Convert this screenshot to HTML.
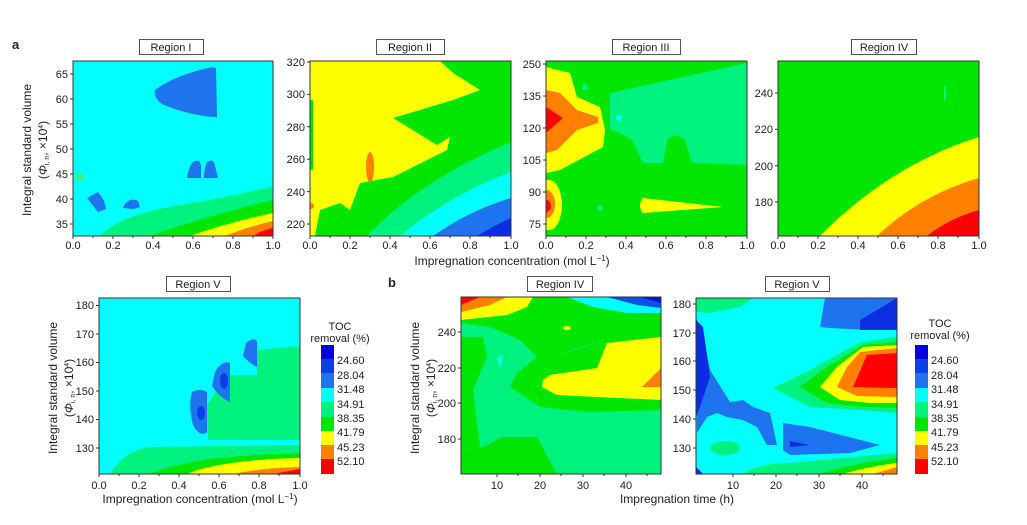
<!DOCTYPE html>
<html><head><meta charset="utf-8"><style>
body{margin:0;background:#fff}
svg{display:block}
text{font-family:"Liberation Sans",sans-serif;fill:#222}
.t{font-size:11px}
.ax{stroke:#333;stroke-width:1;fill:none}
</style></head><body>
<svg width="1027" height="525" viewBox="0 0 1027 525" xmlns="http://www.w3.org/2000/svg">
<defs>
<clipPath id="c1"><rect x="73" y="61" width="200" height="175"/></clipPath>
<clipPath id="c2"><rect x="310" y="61" width="201" height="175"/></clipPath>
<clipPath id="c3"><rect x="546" y="61" width="201" height="175"/></clipPath>
<clipPath id="c4"><rect x="778" y="61" width="201" height="175"/></clipPath>
<clipPath id="c5"><rect x="99" y="298" width="201" height="176"/></clipPath>
<clipPath id="c6"><rect x="461" y="297" width="200" height="177"/></clipPath>
<clipPath id="c7"><rect x="696" y="298" width="201" height="176"/></clipPath>
</defs>

<!-- Region I -->
<g clip-path="url(#c1)">
<rect x="73" y="61" width="200" height="175" fill="#00ffff"/>
<path d="M100,236 Q120,215 180,205 Q240,195 273,186 L273,236Z" fill="#00f27e"/>
<path d="M150,236 Q200,218 273,200 L273,236Z" fill="#00e600"/>
<path d="M190,236 Q230,222 273,213 L273,236Z" fill="#ffff00"/>
<path d="M225,236 Q250,226 273,221 L273,236Z" fill="#ff8000"/>
<path d="M253,236 Q262,230 273,228 L273,236Z" fill="#ff0000"/>
<path d="M155,90 Q175,75 212,67 L216,68 L217,117 Q190,116 162,104 Q153,97 155,90Z" fill="#1e74ee"/>
<path d="M193,162 Q200,158 201,166 L201,178 L187,178 Q188,168 193,162Z" fill="#1e74ee"/>
<path d="M207,162 Q214,158 215,166 L218,178 L204,178 Q204,168 207,162Z" fill="#1e74ee"/>
<path d="M87,198 L98,192 Q105,200 106,209 L98,212 Z" fill="#1e74ee"/>
<path d="M123,207 Q130,196 138,201 L140,207 L134,209 L123,208Z" fill="#1e74ee"/>
<circle cx="80" cy="177" r="4" fill="#3df07a"/>
</g>

<!-- Region II -->
<g clip-path="url(#c2)">
<rect x="310" y="61" width="201" height="175" fill="#00e600"/>
<path d="M367,236 Q420,180 511,142 L511,236Z" fill="#00f27e"/>
<path d="M400,236 Q450,195 511,172 L511,236Z" fill="#00ffff"/>
<path d="M433,236 Q470,210 511,198 L511,236Z" fill="#1e74ee"/>
<path d="M477,236 Q495,225 511,218 L511,236Z" fill="#0a2ee0"/>
<path d="M310,61 L440,61 L453,73 L480,90 L453,100 L393,118 L437,145 L450,137 L447,150 L433,157 L393,177 L360,183 L350,210 L340,203 L320,210 L315,236 L310,236Z" fill="#ffff00"/>
<rect x="310" y="100" width="3" height="70" fill="#00e600"/>
<ellipse cx="370" cy="167" rx="4" ry="15" fill="#ff8000"/>
<circle cx="311" cy="206" r="3" fill="#ff8000"/>
</g>

<!-- Region III -->
<g clip-path="url(#c3)">
<rect x="546" y="61" width="201" height="175" fill="#00e600"/>
<path d="M610,93 L747,63 L747,165 L692,163 L685,140 L677,135 L668,138 L663,163 L643,163 L632,140 L620,133 L610,130Z" fill="#00f27e"/>
<path d="M546,67 L570,73 L577,97 L600,107 L605,130 L603,147 L560,170 L546,173Z" fill="#ffff00"/>
<path d="M546,90 L560,93 L577,110 L598,117 L598,123 L577,130 L557,150 L546,153Z" fill="#ff8000"/>
<path d="M546,107 L563,118 L546,133Z" fill="#ff0000"/>
<ellipse cx="549" cy="205" rx="13" ry="25" fill="#ffff00"/>
<ellipse cx="547" cy="204" rx="8" ry="14" fill="#ff8000"/>
<ellipse cx="546" cy="206" rx="5" ry="6" fill="#ff0000"/>
<path d="M643,198 L723,207 L643,213 Q637,206 643,198Z" fill="#ffff00"/>
<circle cx="619" cy="118" r="3" fill="#00ffff"/>
<circle cx="600" cy="208" r="3" fill="#00f27e"/>
<circle cx="585" cy="87" r="3" fill="#00f27e"/>
</g>

<!-- Region IV -->
<g clip-path="url(#c4)">
<rect x="778" y="61" width="201" height="175" fill="#00e600"/>
<path d="M820,236 Q890,165 979,137 L979,236Z" fill="#ffff00"/>
<path d="M877,236 Q920,195 979,178 L979,236Z" fill="#ff8000"/>
<path d="M927,236 Q950,218 979,210 L979,236Z" fill="#ff0000"/>
<rect x="944" y="86" width="2" height="14" fill="#00f27e"/>
</g>

<!-- Region V a -->
<g clip-path="url(#c5)">
<rect x="99" y="298" width="201" height="176" fill="#00ffff"/>
<path d="M207,405 L227,375 L257,375 L257,350 L300,346 L300,440 L208,440Z" fill="#00f27e"/>
<path d="M110,474 Q125,450 150,447 L300,445 L300,474Z" fill="#00f27e"/>
<path d="M150,474 Q190,456 300,453 L300,474Z" fill="#00e600"/>
<path d="M187,474 Q220,460 300,458 L300,474Z" fill="#ffff00"/>
<path d="M233,474 Q260,468 300,467 L300,474Z" fill="#ff8000"/>
<path d="M273,474 L300,469 L300,474Z" fill="#ff0000"/>
<path d="M192,392 Q200,388 207,392 L207,432 Q200,438 193,425 Q188,405 192,392Z" fill="#1e74ee"/>
<ellipse cx="201" cy="413" rx="4" ry="7" fill="#0a3ee6"/>
<path d="M215,372 Q222,360 230,363 L230,402 Q220,398 212,386Z" fill="#1e74ee"/>
<ellipse cx="224" cy="381" rx="4" ry="8" fill="#0a3ee6"/>
<path d="M246,343 Q255,336 257,342 L257,367 Q248,362 243,356Z" fill="#1e74ee"/>
</g>

<!-- b Region IV -->
<g clip-path="url(#c6)">
<rect x="461" y="297" width="200" height="177" fill="#00f27e"/>
<path d="M461,297 L661,297 L661,337 L607,340 L580,347 L550,357 L537,357 L520,340 L490,327 L461,323Z" fill="#00e600"/>
<path d="M537,357 L550,357 L607,340 L661,337 L661,410 L590,412 L540,407 L510,387 L517,373Z" fill="#00e600"/>
<path d="M461,337 L483,337 L487,357 L473,390 L480,447 L461,450Z" fill="#00e600"/>
<path d="M461,450 L483,447 L503,437 L537,437 L557,474 L461,474Z" fill="#00e600"/>
<path d="M543,380 L550,375 L597,368 L607,343 L661,337 L661,400 L597,397 L557,395 L542,387Z" fill="#ffff00"/>
<path d="M642,387 L661,368 L661,387Z" fill="#ff8000"/>
<path d="M461,297 L533,297 L527,307 L507,315 L461,320Z" fill="#ffff00"/>
<path d="M461,297 L507,297 L490,305 L461,312Z" fill="#ff8000"/>
<path d="M461,297 L480,297 L461,305Z" fill="#ff0000"/>
<path d="M567,297 L661,297 L661,313 L627,313 L593,307Z" fill="#00ffff"/>
<path d="M607,297 L661,297 L661,308 L637,305Z" fill="#0a50ea"/>
<path d="M640,297 L661,297 L661,303Z" fill="#0010e0"/>
<path d="M497,358 L503,356 L500,368Z" fill="#00ffff"/>
<ellipse cx="567" cy="328" rx="4" ry="2" fill="#ffff00"/>
</g>

<!-- b Region V -->
<g clip-path="url(#c7)">
<rect x="696" y="298" width="201" height="176" fill="#00ffff"/>
<path d="M825,298 L897,298 L897,330 L870,330 L830,328 L820,327Z" fill="#1e74ee"/>
<path d="M877,310 L897,298 L897,330 L860,330 L860,320Z" fill="#0a2ee0"/>
<path d="M696,298 L753,298 L740,307 L710,313 L696,312Z" fill="#00f27e"/>
<path d="M897,337 L860,342 L810,370 L773,388 L810,407 L860,410 L897,413Z" fill="#00f27e"/>
<path d="M897,342 L863,345 L827,367 L800,387 L827,403 L863,407 L897,408Z" fill="#00e600"/>
<path d="M897,345 L863,347 L837,367 L820,387 L840,400 L870,403 L897,403Z" fill="#ffff00"/>
<path d="M897,348 L860,352 L847,367 L837,387 L857,396 L897,397Z" fill="#ff8000"/>
<path d="M897,353 L867,355 L853,387 L897,388Z" fill="#ff0000"/>
<path d="M696,317 L705,345 L710,370 L730,402 L743,400 L753,407 L770,413 L777,445 L767,445 L757,427 L743,420 L727,417 L717,413 L707,417 L697,433Z" fill="#1e74ee"/>
<path d="M696,320 L703,327 L710,377 L700,407 L696,417Z" fill="#0a2ee0"/>
<path d="M783,423 L810,427 L880,445 L850,453 L790,455 L783,450Z" fill="#1e74ee"/>
<path d="M790,441 L810,445 L790,447Z" fill="#0a2ee0"/>
<ellipse cx="725" cy="448" rx="15" ry="7" fill="#00f27e"/>
<path d="M743,474 Q760,463 790,463 L897,453 L897,474Z" fill="#00f27e"/>
<path d="M820,474 Q850,464 897,458 L897,474Z" fill="#00e600"/>
<path d="M843,474 Q870,466 897,463 L897,474Z" fill="#ffff00"/>
<path d="M873,474 L897,467 L897,474Z" fill="#ff8000"/>
<path d="M696,467 L703,474 L696,474Z" fill="#0a2ee0"/>
</g>

<!-- frames -->
<g class="ax">
<rect x="73" y="61" width="200" height="175"/>
<rect x="310" y="61" width="201" height="175"/>
<rect x="546" y="61" width="201" height="175"/>
<rect x="778" y="61" width="201" height="175"/>
<rect x="99" y="298" width="201" height="176"/>
<rect x="461" y="297" width="200" height="177"/>
<rect x="696" y="298" width="201" height="176"/>
</g>

<!-- ticks -->
<g stroke="#333" stroke-width="1">
<path d="M70,224h3M70,199h3M70,174h3M70,149h3M70,124h3M70,99h3M70,74h3"/>
<path d="M307,224h3M307,191.6h3M307,159.2h3M307,126.8h3M307,94.4h3M307,62h3"/>
<path d="M543,224h3M543,192h3M543,160h3M543,128h3M543,96h3M543,64h3"/>
<path d="M775,202h3M775,165.7h3M775,129.3h3M775,93h3"/>
<path d="M96,448h3M96,419.5h3M96,391h3M96,362.5h3M96,334h3M96,305.5h3"/>
<path d="M458,439h3M458,403h3M458,368h3M458,332h3"/>
<path d="M693,448h3M693,419h3M693,390h3M693,361h3M693,333h3M693,304h3"/>
<path d="M73,236v3M113,236v3M153,236v3M193,236v3M233,236v3M273,236v3"/>
<path d="M310,236v3M350,236v3M390,236v3M430,236v3M470,236v3M511,236v3"/>
<path d="M546,236v3M586,236v3M626,236v3M666,236v3M706,236v3M747,236v3"/>
<path d="M778,236v3M818,236v3M858,236v3M898,236v3M938,236v3M979,236v3"/>
<path d="M99,474v3M139,474v3M179,474v3M219,474v3M259,474v3M300,474v3"/>
<path d="M497,474v3M540,474v3M583,474v3M626,474v3"/>
<path d="M733,474v3M776,474v3M819,474v3M862,474v3"/>
<path d="M93,236v2M133,236v2M173,236v2M213,236v2M253,236v2M330,236v2M370,236v2M410,236v2M450,236v2M490,236v2M566,236v2M606,236v2M646,236v2M686,236v2M726,236v2M798,236v2M838,236v2M878,236v2M918,236v2M958,236v2M119,474v2M159,474v2M199,474v2M239,474v2M279,474v2M518,474v2M561,474v2M604,474v2M647,474v2M754,474v2M797,474v2M840,474v2M883,474v2"/>
</g>

<!-- tick labels -->
<g class="t" text-anchor="end">
<text x="68" y="228">35</text><text x="68" y="203">40</text><text x="68" y="178">45</text><text x="68" y="153">50</text><text x="68" y="128">55</text><text x="68" y="103">60</text><text x="68" y="78">65</text>
<text x="305" y="228">220</text><text x="305" y="196">240</text><text x="305" y="163">260</text><text x="305" y="131">280</text><text x="305" y="98">300</text><text x="305" y="66">320</text>
<text x="541" y="228">75</text><text x="541" y="196">90</text><text x="541" y="164">105</text><text x="541" y="132">120</text><text x="541" y="100">135</text><text x="541" y="68">250</text>
<text x="773" y="206">180</text><text x="773" y="170">200</text><text x="773" y="133">220</text><text x="773" y="97">240</text>
<text x="94" y="452">130</text><text x="94" y="423">140</text><text x="94" y="395">150</text><text x="94" y="366">160</text><text x="94" y="338">170</text><text x="94" y="309">180</text>
<text x="456" y="443">180</text><text x="456" y="407">200</text><text x="456" y="372">220</text><text x="456" y="336">240</text>
<text x="691" y="452">130</text><text x="691" y="423">140</text><text x="691" y="394">150</text><text x="691" y="365">160</text><text x="691" y="337">170</text><text x="691" y="308">180</text>
</g>
<g class="t" text-anchor="middle">
<text x="73" y="249">0.0</text><text x="113" y="249">0.2</text><text x="153" y="249">0.4</text><text x="193" y="249">0.6</text><text x="233" y="249">0.8</text><text x="273" y="249">1.0</text>
<text x="310" y="249">0.0</text><text x="350" y="249">0.2</text><text x="390" y="249">0.4</text><text x="430" y="249">0.6</text><text x="470" y="249">0.8</text><text x="511" y="249">1.0</text>
<text x="546" y="249">0.0</text><text x="586" y="249">0.2</text><text x="626" y="249">0.4</text><text x="666" y="249">0.6</text><text x="706" y="249">0.8</text><text x="747" y="249">1.0</text>
<text x="778" y="249">0.0</text><text x="818" y="249">0.2</text><text x="858" y="249">0.4</text><text x="898" y="249">0.6</text><text x="938" y="249">0.8</text><text x="979" y="249">1.0</text>
<text x="99" y="489">0.0</text><text x="139" y="489">0.2</text><text x="179" y="489">0.4</text><text x="219" y="489">0.6</text><text x="259" y="489">0.8</text><text x="300" y="489">1.0</text>
<text x="497" y="489">10</text><text x="540" y="489">20</text><text x="583" y="489">30</text><text x="626" y="489">40</text>
<text x="733" y="489">10</text><text x="776" y="489">20</text><text x="819" y="489">30</text><text x="862" y="489">40</text>
</g>

<!-- axis labels -->
<g style="font-size:12px" text-anchor="middle">
<text x="512" y="265">Impregnation concentration (mol L<tspan dy="-4" font-size="8">−1</tspan><tspan dy="4">)</tspan></text>
<text x="200" y="503">Impregnation concentration (mol L<tspan dy="-4" font-size="8">−1</tspan><tspan dy="4">)</tspan></text>
<text x="677" y="503">Impregnation time (h)</text>
<text transform="translate(31,150) rotate(-90)">Integral standard volume</text>
<text transform="translate(47,150) rotate(-90)">(<tspan font-style="italic">Φ</tspan><tspan font-size="7" dy="2">i, n</tspan><tspan dy="-2">, ×10</tspan><tspan font-size="7" dy="-4">4</tspan><tspan dy="4">)</tspan></text>
<text transform="translate(57,388) rotate(-90)">Integral standard volume</text>
<text transform="translate(73,388) rotate(-90)">(<tspan font-style="italic">Φ</tspan><tspan font-size="7" dy="2">i, n</tspan><tspan dy="-2">, ×10</tspan><tspan font-size="7" dy="-4">4</tspan><tspan dy="4">)</tspan></text>
<text transform="translate(419,388) rotate(-90)">Integral standard volume</text>
<text transform="translate(435,388) rotate(-90)">(<tspan font-style="italic">Φ</tspan><tspan font-size="7" dy="2">i, n</tspan><tspan dy="-2">, ×10</tspan><tspan font-size="7" dy="-4">4</tspan><tspan dy="4">)</tspan></text>
</g>

<text x="12" y="49" style="font-size:13px;font-weight:bold">a</text>
<text x="388" y="287" style="font-size:13px;font-weight:bold">b</text>

<!-- titles -->
<g fill="#fff" stroke="#555" stroke-width="1">
<rect x="139.5" y="39.5" width="64" height="15"/>
<rect x="376.5" y="39.5" width="68" height="15"/>
<rect x="612.5" y="39.5" width="68" height="15"/>
<rect x="851.5" y="39.5" width="65" height="15"/>
<rect x="166.5" y="276.5" width="64" height="15"/>
<rect x="527.5" y="276.5" width="65" height="15"/>
<rect x="765.5" y="276.5" width="64" height="15"/>
</g>
<g class="t" text-anchor="middle">
<text x="171" y="51">Region I</text>
<text x="410" y="51">Region II</text>
<text x="646" y="51">Region III</text>
<text x="884" y="51">Region IV</text>
<text x="198" y="288">Region V</text>
<text x="560" y="288">Region IV</text>
<text x="797" y="288">Region V</text>
</g>

<!-- colorbars -->
<g>
<rect x="321" y="345" width="13" height="15" fill="#0000e0"/>
<rect x="321" y="359" width="13" height="15" fill="#0a40e6"/>
<rect x="321" y="373" width="13" height="15" fill="#1e74ee"/>
<rect x="321" y="388" width="13" height="15" fill="#00ffff"/>
<rect x="321" y="402" width="13" height="15" fill="#00f27e"/>
<rect x="321" y="417" width="13" height="15" fill="#00e600"/>
<rect x="321" y="431" width="13" height="15" fill="#ffff00"/>
<rect x="321" y="445" width="13" height="15" fill="#ff8000"/>
<rect x="321" y="459" width="13" height="15" fill="#ff0000"/>
</g>
<g transform="translate(594,0)">
<rect x="321" y="345" width="13" height="15" fill="#0000e0"/>
<rect x="321" y="359" width="13" height="15" fill="#0a40e6"/>
<rect x="321" y="373" width="13" height="15" fill="#1e74ee"/>
<rect x="321" y="388" width="13" height="15" fill="#00ffff"/>
<rect x="321" y="402" width="13" height="15" fill="#00f27e"/>
<rect x="321" y="417" width="13" height="15" fill="#00e600"/>
<rect x="321" y="431" width="13" height="15" fill="#ffff00"/>
<rect x="321" y="445" width="13" height="15" fill="#ff8000"/>
<rect x="321" y="459" width="13" height="15" fill="#ff0000"/>
</g>
<g class="t">
<text x="340" y="330" text-anchor="middle">TOC</text>
<text x="340" y="342" text-anchor="middle">removal (%)</text>
<text x="337" y="364">24.60</text><text x="337" y="379">28.04</text><text x="337" y="393">31.48</text><text x="337" y="408">34.91</text><text x="337" y="422">38.35</text><text x="337" y="436">41.79</text><text x="337" y="451">45.23</text><text x="337" y="465">52.10</text>
<text x="940" y="327" text-anchor="middle">TOC</text>
<text x="940" y="339" text-anchor="middle">removal (%)</text>
<text x="931" y="364">24.60</text><text x="931" y="379">28.04</text><text x="931" y="393">31.48</text><text x="931" y="408">34.91</text><text x="931" y="422">38.35</text><text x="931" y="436">41.79</text><text x="931" y="451">45.23</text><text x="931" y="465">52.10</text>
</g>
</svg>
</body></html>
